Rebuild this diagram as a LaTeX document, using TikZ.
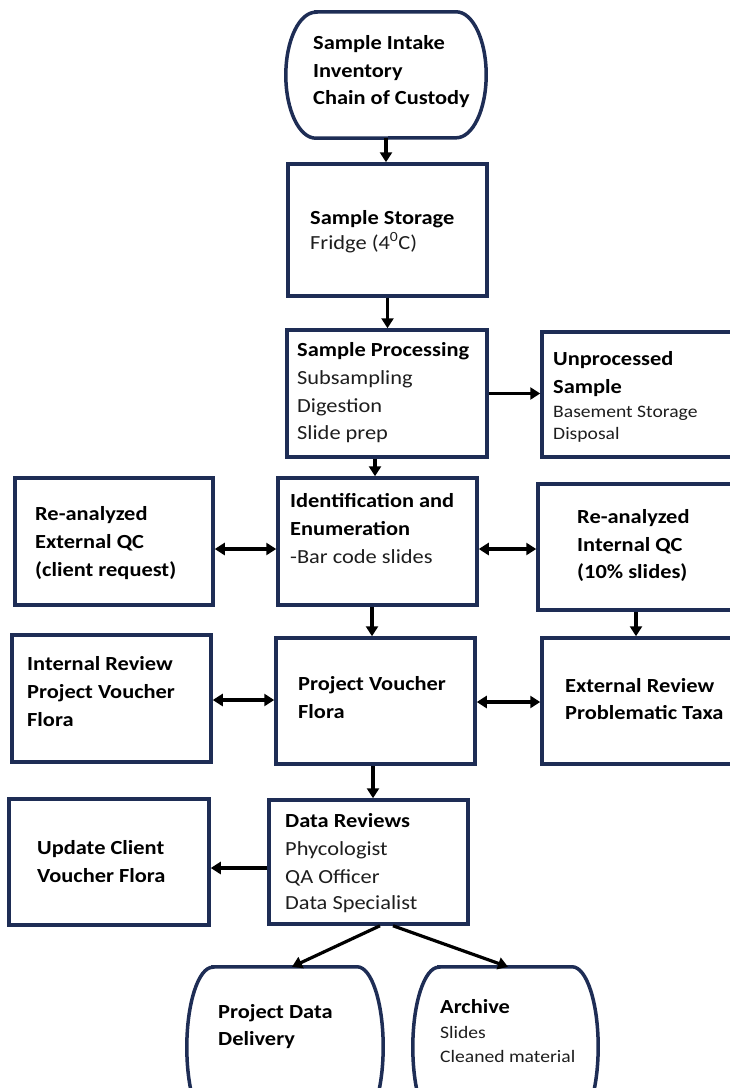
\documentclass[tikz,border=0pt]{standalone}
\usepackage{fontspec}
\setmainfont{Carlito}[FakeStretch=1.12]
\usetikzlibrary{arrows.meta}
\definecolor{navy}{RGB}{30,45,85}
\definecolor{txt}{RGB}{30,30,30}
\tikzset{
  box/.style={draw=navy, line width=3.5pt, inner sep=0pt, fill=white},
  ghost/.style={draw=none, inner sep=0pt},
  termline/.style={draw=navy, line width=3.5pt, fill=white},
  arr/.style={-{Triangle[length=10pt,width=12pt]}, line width=3.2pt, black},
  darr/.style={{Triangle[length=10pt,width=12pt]}-{Triangle[length=10pt,width=12pt]}, line width=3.2pt, black},
  hd/.style={anchor=base west, inner sep=0pt, text=black, font=\bfseries\fontsize{20}{24}\selectfont},
  tx/.style={anchor=base west, inner sep=0pt, text=txt, font=\fontsize{20}{24}\selectfont},
  sm/.style={anchor=base west, inner sep=0pt, text=txt, font=\fontsize{17.5}{21}\selectfont},
}
\newcommand{\termshape}[3]{%
  \draw[termline] ([xshift=#2]#1.north west) -- ([xshift=-#2]#1.north east)
    arc[start angle=90, end angle=-90, x radius=#2, y radius=#3]
    -- ([xshift=#2]#1.south west)
    arc[start angle=270, end angle=90, x radius=#2, y radius=#3] -- cycle;}
\begin{document}
\begin{tikzpicture}[x=1pt,y=1pt]
\useasboundingbox (0,0) rectangle (730,-1088);
\fill[white] (0,0) rectangle (730,-1088);
\clip (0,0) rectangle (730,-1088);

% ---- shapes ----
\node[ghost, minimum width=200pt, minimum height=126pt] (T1) at (386,-75) {};
\termshape{T1}{30pt}{63pt}
\node[box, minimum width=199pt, minimum height=132pt] (B2) at (387.5,-230) {};
\node[box, minimum width=200pt, minimum height=127pt] (B3) at (387,-393.5) {};
\node[box, minimum width=203pt, minimum height=125pt] (U) at (643.5,-394.5) {};
\node[box, minimum width=198pt, minimum height=127pt] (L4) at (114,-541.5) {};
\node[box, minimum width=199pt, minimum height=127pt] (C4) at (377.5,-541.5) {};
\node[box, minimum width=207pt, minimum height=126pt] (R4) at (641.5,-547) {};
\node[box, minimum width=199pt, minimum height=127pt] (L5) at (111.5,-698.5) {};
\node[box, minimum width=199pt, minimum height=126pt] (C5) at (375.5,-701) {};
\node[box, minimum width=203pt, minimum height=126pt] (R5) at (643.5,-701) {};
\node[box, minimum width=200pt, minimum height=126pt] (L6) at (109,-862) {};
\node[box, minimum width=199pt, minimum height=124pt] (C6) at (368.5,-862) {};
\node[ghost, minimum width=196pt, minimum height=160pt] (P) at (285,-1047) {};
\termshape{P}{26pt}{80pt}
\node[ghost, minimum width=185pt, minimum height=160pt] (A) at (505.5,-1047) {};
\termshape{A}{26pt}{80pt}

% ---- texts ----
\node[hd] (t1a) at (313,-49.5) {Sample Intake};
\node[hd] (t1b) at (313,-77) {Inventory};
\node[hd] (t1c) at (313,-104.5) {Chain of Custody};

\node[hd] (b2a) at (310,-224) {Sample Storage};
\node[tx] (b2b) at (310,-249) {Fridge (4\textsuperscript{0}C)};

\node[hd] (b3a) at (297,-356) {Sample Processing};
\node[tx] (b3b) at (297,-384) {Subsampling};
\node[tx] (b3c) at (297,-412) {Digestion};
\node[tx] (b3d) at (297,-439) {Slide prep};

\node[hd] (ua) at (553,-365) {Unprocessed};
\node[hd] (ub) at (553,-393) {Sample};
\node[sm] (uc) at (553,-417) {Basement Storage};
\node[sm] (ud) at (553,-439) {Disposal};

\node[hd] (l4a) at (35,-520) {Re-analyzed};
\node[hd] (l4b) at (35,-548) {External QC};
\node[hd] (l4c) at (35,-576) {(client request)};

\node[hd] (c4a) at (290,-507) {Identification and};
\node[hd] (c4b) at (290,-535) {Enumeration};
\node[tx] (c4c) at (290,-563) {-Bar code slides};

\node[hd] (r4a) at (577,-523) {Re-analyzed};
\node[hd] (r4b) at (577,-551) {Internal QC};
\node[hd] (r4c) at (577,-578) {(10\% slides)};

\node[hd] (l5a) at (27,-670) {Internal Review};
\node[hd] (l5b) at (27,-698) {Project Voucher};
\node[hd] (l5c) at (27,-726) {Flora};

\node[hd] (c5a) at (298,-690) {Project Voucher};
\node[hd] (c5b) at (298,-718) {Flora};

\node[hd] (r5a) at (565,-692) {External Review};
\node[hd] (r5b) at (565,-719) {Problematic Taxa};

\node[hd] (l6a) at (37,-854) {Update Client};
\node[hd] (l6b) at (37,-882) {Voucher Flora};

\node[hd] (c6a) at (285,-827) {Data Reviews};
\node[tx] (c6b) at (285,-855) {Phycologist};
\node[tx] (c6c) at (285,-883) {QA Officer};
\node[tx] (c6d) at (285,-909) {Data Specialist};

\node[hd] (pa) at (218,-1018) {Project Data};
\node[hd] (pb) at (218,-1045) {Delivery};

\node[hd] (aa) at (440,-1013) {Archive};
\node[sm] (ab) at (440,-1038) {Slides};
\node[sm] (ac) at (440,-1062) {Cleaned material};

% ---- connectors ----
\coordinate (c4n) at ([xshift=-2.5pt]C4.north);
\coordinate (c4s) at ([xshift=-5.5pt]C4.south);
\coordinate (r4s) at ([xshift=-5.5pt]R4.south);
\coordinate (c5s) at ([xshift=-2.5pt]C5.south);
\coordinate (l4e) at ([yshift=-7.5pt]L4.east);
\coordinate (c4e) at ([yshift=-7.5pt]C4.east);
\coordinate (l5e) at ([yshift=-1.5pt]L5.east);
\coordinate (c5e) at ([yshift=-1pt]C5.east);
\coordinate (c6w) at ([yshift=-6pt]C6.west);
\coordinate (c6s1) at ([xshift=11.5pt]C6.south);
\coordinate (c6s2) at ([xshift=24.5pt]C6.south);
\coordinate (pn) at ([xshift=7pt]P.north);
\coordinate (an) at ([xshift=2.5pt]A.north);

\draw[arr] (T1.south) -- (T1.south |- B2.north);
\draw[arr] (B2.south) -- (B2.south |- B3.north);
\draw[arr] (B3.east) -- (B3.east -| U.west);
\draw[arr] (c4n |- B3.south) -- (c4n);
\draw[darr] (l4e) -- (l4e -| C4.west);
\draw[darr] (c4e) -- (c4e -| R4.west);
\draw[arr] (c4s) -- (c4s |- C5.north);
\draw[arr] (r4s) -- (r4s |- R5.north);
\draw[darr] (l5e) -- (l5e -| C5.west);
\draw[darr] (c5e) -- (c5e -| R5.west);
\draw[arr] (c5s) -- (c5s |- C6.north);
\draw[arr] (c6w) -- (c6w -| L6.east);
\draw[arr] (c6s1) -- (pn);
\draw[arr] (c6s2) -- (an);
\end{tikzpicture}
\end{document}
